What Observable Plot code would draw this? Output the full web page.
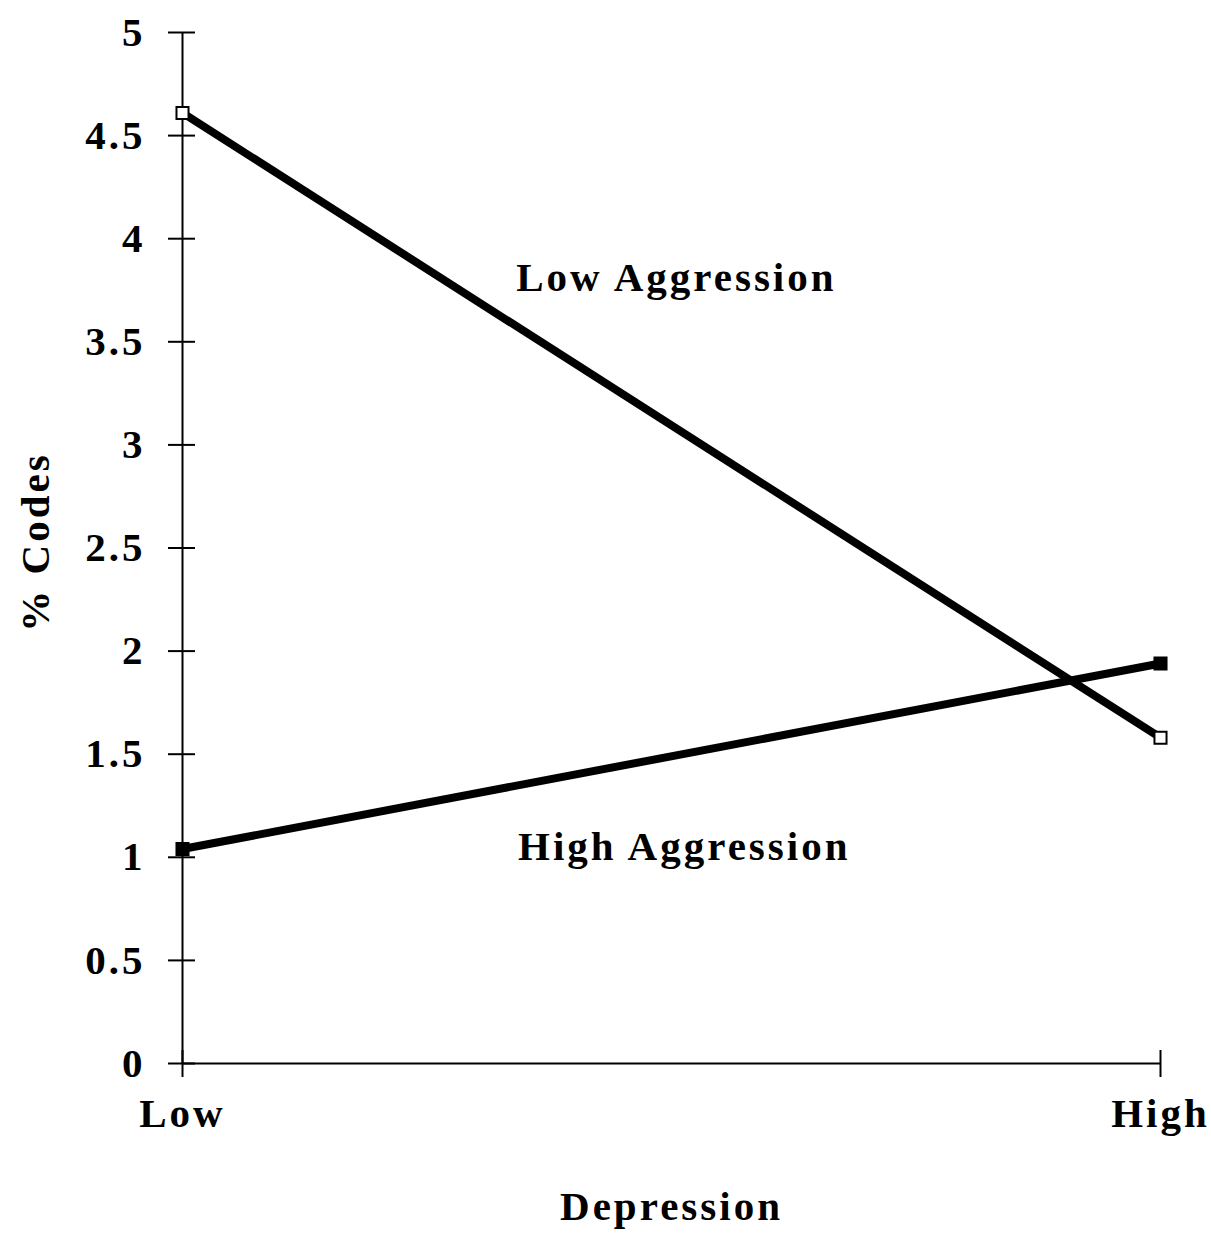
<!DOCTYPE html>
<html>
<head>
<meta charset="utf-8">
<script src="https://cdn.jsdelivr.net/npm/d3@7"></script>
<script src="https://cdn.jsdelivr.net/npm/@observablehq/plot@0.6"></script>
<style>
  html, body { margin: 0; padding: 0; background: #fff; }
</style>
</head>
<body>
<div id="chart"></div>
<script>
// Data
const categories = ["Low", "High"];           // Depression level
const lowAggression = [4.61, 1.58];           // % Codes, Low Aggression group
const highAggression = [1.04, 1.94];          // % Codes, High Aggression group
const yTicks = [0, 0.5, 1, 1.5, 2, 2.5, 3, 3.5, 4, 4.5, 5];
const seriesNames = ["Low Aggression", "High Aggression"];
const labelX = [0.505, 0.513];
const labelY = [3.81, 1.05];
const xTitle = "Depression";
const yTitle = "% Codes";

const rows = [];
categories.forEach((c, i) => {
  rows.push({series: seriesNames[0], x: i, y: lowAggression[i]});
  rows.push({series: seriesNames[1], x: i, y: highAggression[i]});
});
const labels = seriesNames.map((s, i) => ({text: s, x: labelX[i], y: labelY[i]}));

const font = "'Liberation Serif', 'Times New Roman', serif";
const fs = 41;

const chart = Plot.plot({
  width: 1211,
  height: 1234,
  marginLeft: 182,
  marginRight: 51,
  marginTop: 32,
  marginBottom: 171,
  style: {fontFamily: font, fontWeight: "bold", fontSize: fs + "px", letterSpacing: "3px", color: "#000", background: "#fff"},
  x: {type: "linear", domain: [0, categories.length - 1]},
  y: {domain: [0, 5]},
  marks: [
    Plot.ruleX([0], {stroke: "#000", strokeWidth: 2}),
    Plot.ruleY([0], {stroke: "#000", strokeWidth: 2}),
    Plot.axisY({ticks: yTicks, tickSize: 27, dx: 13, tickPadding: 23, strokeWidth: 2, label: null, fontSize: fs, tickFormat: d => String(d)}),
    Plot.axisX({ticks: categories.map((c, i) => i), tickSize: 27, dy: -13, tickPadding: 20, strokeWidth: 2, label: null, fontSize: fs, tickFormat: i => categories[i]}),
    Plot.line(rows, {x: "x", y: "y", z: "series", stroke: "#000", strokeWidth: 8}),
    Plot.dot(rows, {x: "x", y: "y", symbol: "square", r: 6.8, stroke: "#000", strokeWidth: 2, fill: d => d.series === seriesNames[0] ? "#fff" : "#000"}),
    Plot.text(labels, {x: "x", y: "y", text: "text", fontSize: fs, textAnchor: "middle", lineAnchor: "middle"}),
    Plot.text([xTitle], {frameAnchor: "bottom", dy: 143, fontSize: fs, textAnchor: "middle", lineAnchor: "middle"}),
    Plot.text([yTitle], {frameAnchor: "left", dx: -147, dy: -6, rotate: -90, fontSize: fs, textAnchor: "middle", lineAnchor: "middle"})
  ]
});
document.getElementById("chart").appendChild(chart);
</script>
</body>
</html>
